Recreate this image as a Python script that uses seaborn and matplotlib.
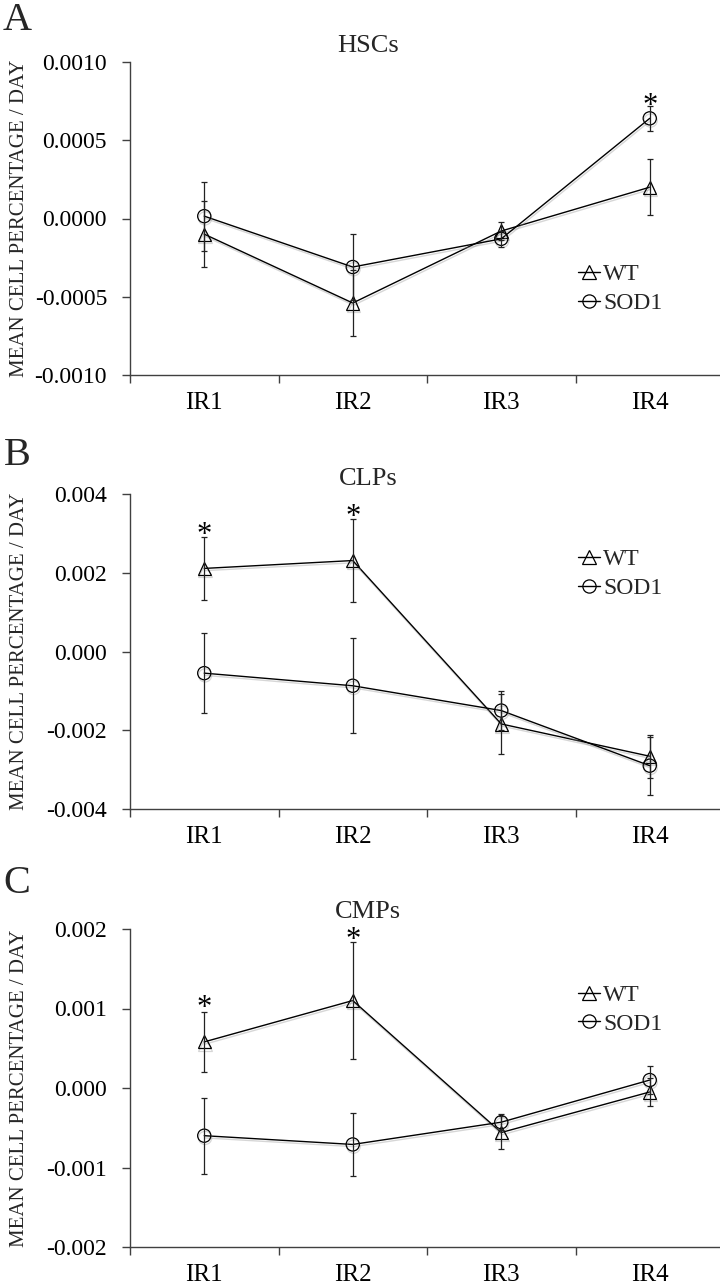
import numpy as np
import pandas as pd
import matplotlib
matplotlib.use("Agg")
import matplotlib.pyplot as plt
import matplotlib.patheffects as pe
from matplotlib.ticker import FixedLocator, StrMethodFormatter
from matplotlib.lines import Line2D
import seaborn as sns

# ---------------- data ----------------
categories = ["IR1", "IR2", "IR3", "IR4"]
groups = ["WT", "SOD1"]

hsc_wt = [-0.00010, -0.00054, -0.00008, 0.00020]
hsc_wt_err = [0.00021, 0.00021, 0.00006, 0.00018]
hsc_sod = [0.000015, -0.00031, -0.00013, 0.00064]
hsc_sod_err = [0.00022, 0.00021, 0.00005, 0.00008]

clp_wt = [0.00211, 0.00231, -0.00184, -0.00266]
clp_wt_err = [0.00079, 0.00105, 0.00077, 0.00055]
clp_sod = [-0.00055, -0.00087, -0.00150, -0.00290]
clp_sod_err = [0.00102, 0.00121, 0.00050, 0.00074]

cmp_wt = [0.00058, 0.00110, -0.00056, -0.00005]
cmp_wt_err = [0.00038, 0.00074, 0.00021, 0.00018]
cmp_sod = [-0.00060, -0.00071, -0.00043, 0.00010]
cmp_sod_err = [0.00048, 0.00040, 0.00010, 0.00018]

panel_titles = ["HSCs", "CLPs", "CMPs"]
panel_letters = ["A", "B", "C"]
y_ticks_A = [-0.0010, -0.0005, 0.0000, 0.0005, 0.0010]
y_ticks_B = [-0.004, -0.002, 0.000, 0.002, 0.004]
y_ticks_C = [-0.002, -0.001, 0.000, 0.001, 0.002]
star_A = [("IR4", 0.000716)]
star_B = [("IR1", 0.00295), ("IR2", 0.00341)]
star_C = [("IR1", 0.00100), ("IR2", 0.00185)]
ylabel = "MEAN CELL PERCENTAGE / DAY"

panels = [
    (hsc_wt, hsc_wt_err, hsc_sod, hsc_sod_err, y_ticks_A, "{x:.4f}", star_A),
    (clp_wt, clp_wt_err, clp_sod, clp_sod_err, y_ticks_B, "{x:.3f}", star_B),
    (cmp_wt, cmp_wt_err, cmp_sod, cmp_sod_err, y_ticks_C, "{x:.3f}", star_C),
]

# ---------------- style ----------------
sns.set_style("ticks")
plt.rcParams["font.family"] = ["Liberation Serif", "DejaVu Serif"]
plt.rcParams["axes.unicode_minus"] = False

W, H = 720, 1285
fig = plt.figure(figsize=(W / 100, H / 100), dpi=100)

# axes boxes in pixels: (top, bottom)
boxes = [(62, 375), (494, 809), (929, 1247)]
left_px, width_px = 130, 594
letter_base = [30, 465, 893]
title_base = [52, 485, 918]
legend_y = [0.275, 0.746, 0.747]

axis_color = "#404040"
shadow = [pe.SimpleLineShadow(offset=(0.6, -1.6), shadow_color="0.55", alpha=0.35),
          pe.Normal()]
markers = {"WT": "^", "SOD1": "o"}

for i, (wt, wte, sod, sode, yt, fmt, stars) in enumerate(panels):
    top, bot = boxes[i]
    ax = fig.add_axes([left_px / W, (H - bot) / H, width_px / W, (bot - top) / H])

    df = pd.DataFrame({
        "cat": categories * 2,
        "x": list(range(len(categories))) * 2,
        "value": wt + sod,
        "err": wte + sode,
        "group": ["WT"] * len(categories) + ["SOD1"] * len(categories),
    })

    sns.lineplot(data=df, x="x", y="value", style="group", markers=markers,
                 dashes=False, color="black", linewidth=1.0, markersize=9.5,
                 markeredgewidth=0.9, fillstyle="none", markeredgecolor="black",
                 legend=False, ax=ax, sort=False)
    for ln in ax.get_lines():
        ln.set_path_effects(shadow)

    for g in groups:
        sub = df[df["group"] == g]
        ax.errorbar(sub["x"], sub["value"], yerr=sub["err"], fmt="none",
                    ecolor="#222222", elinewidth=0.9, capsize=2.2, capthick=0.9)

    for cat, yv in stars:
        ax.text(categories.index(cat), yv, "*", ha="center", va="center",
                fontsize=22, color="black")

    ax.set_xlim(-0.5, len(categories) - 0.5)
    ax.set_ylim(yt[0], yt[-1])
    ax.xaxis.set_major_locator(FixedLocator(range(len(categories))))
    ax.set_xticklabels(categories)
    ax.xaxis.set_minor_locator(FixedLocator(np.arange(-0.5, len(categories), 1.0)))
    ax.tick_params(axis="x", which="major", length=0, pad=12, labelsize=18,
                   colors="black")
    ax.tick_params(axis="x", which="minor", length=5.8, width=1.0, direction="out",
                   color=axis_color)
    ax.yaxis.set_major_locator(FixedLocator(yt))
    ax.yaxis.set_major_formatter(StrMethodFormatter(fmt))
    ax.tick_params(axis="y", length=5.5, width=1.0, direction="out", pad=11,
                   labelsize=17, color=axis_color, labelcolor="black")
    ax.set_xlabel("")
    ax.set_ylabel("")
    for s in ["top", "right"]:
        ax.spines[s].set_visible(False)
    for s in ["left", "bottom"]:
        ax.spines[s].set_color(axis_color)
        ax.spines[s].set_linewidth(1.0)

    handles = [Line2D([], [], color="black", lw=1.0, marker=markers[g], markersize=9.5,
                      fillstyle="none", markeredgewidth=0.9) for g in groups]
    ax.legend(handles, groups, loc="center left",
              bbox_to_anchor=(0.755, legend_y[i]), frameon=False, fontsize=17,
              handlelength=0.9, handletextpad=0.15, labelspacing=0.3,
              borderpad=0, borderaxespad=0)

    fig.text(368 / W, 1 - title_base[i] / H, panel_titles[i], ha="center",
             va="baseline", fontsize=19)
    fig.text(17 / W, 1 - letter_base[i] / H, panel_letters[i], ha="center",
             va="baseline", fontsize=29)
    fig.text(20 / W, 1 - ((top + bot) / 2) / H, ylabel, ha="center", va="center",
             rotation=90, fontsize=15)

fig.savefig("out.png", dpi=100)
